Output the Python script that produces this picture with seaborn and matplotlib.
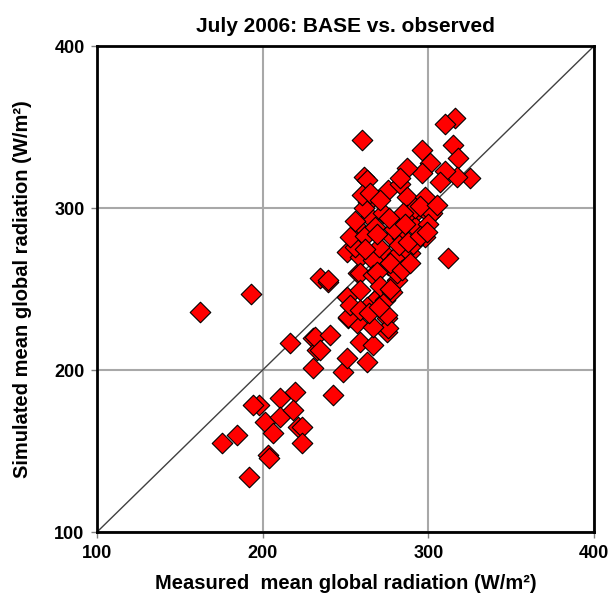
import matplotlib
matplotlib.use("Agg")
import matplotlib.pyplot as plt
import seaborn as sns
import pandas as pd

measured = [
    162, 193, 260, 261, 198, 216.5, 194, 210.5, 219.5, 201.5, 210.5, 206, 175.5, 184.5,
    203, 204, 192, 218, 221.5, 224, 224, 230.5, 232.8, 230.5, 234.6, 239.4, 250.9, 231.6,
    240.6, 234.6, 248.5, 250.9, 262.9, 258.7, 266.6, 251.5, 257, 275, 275, 267.8, 257.5,
    281, 242.4,
    263, 275.6, 283, 287, 298, 263.5, 264.8, 272.6, 281, 287, 293.7, 301, 292, 298,
    258.7, 255.7, 278, 284, 250.9, 258.7, 272.6, 281, 289, 266.6, 275.6, 258.7, 266.6,
    281, 312, 239.4, 269, 276.8, 258.7, 267.8, 273.8, 263, 251.5, 275.6, 266.6, 275,
    316, 310, 315, 318, 325, 317, 310, 296, 301, 296, 287, 283, 307, 302, 292, 284.7,
    261, 256, 253, 270, 279, 286, 291, 295, 300, 305, 262, 268, 271, 278, 284, 289,
    253, 259, 264, 270, 277, 282, 288, 295, 299, 260, 265, 271, 256, 262, 269, 276,
]
simulated = [
    236, 247, 342, 319, 178.5, 216.7, 178.4, 182.7, 186.4, 167.9, 171, 161.1, 155, 159.9,
    147.5, 145.7, 134, 175.3, 164.8, 165, 155, 219.8, 212.3, 201, 256.8, 254.3, 245, 220.4,
    221.6, 212.3, 198.8, 207.4, 205, 217.3, 215.4, 232, 229, 232, 223.5, 243, 260,
    255.6, 184.6,
    317, 311, 315, 306.8, 306.8, 303.7, 294.4, 297, 291.4, 295.7, 298.8, 295.7, 288, 282,
    286.4, 280, 282, 281.5, 272.8, 269.8, 272.8, 271, 272, 268, 264.8, 260, 258.6,
    260, 269, 255.6, 260.5, 266, 249.4, 243.2, 243.2, 238.9, 232.7, 226, 226.5, 234,
    355.5, 352, 339, 331, 318.5, 319, 323, 336, 328, 321.6, 325, 318.5, 316, 297, 300, 297,
    300, 276, 282, 276, 287, 290, 278, 301, 290, 302, 283, 288, 252, 248, 262, 266,
    240, 237, 235, 239, 250, 277, 279, 283, 285, 308, 309, 305, 292, 275, 284, 294,
]

df = pd.DataFrame({"measured": measured, "simulated": simulated})

sns.set_style("white")
plt.rcParams["font.family"] = ["Liberation Sans", "DejaVu Sans"]
plt.rcParams["text.color"] = "black"
plt.rcParams["axes.labelcolor"] = "black"
plt.rcParams["xtick.color"] = "black"
plt.rcParams["ytick.color"] = "black"

fig = plt.figure(figsize=(6.09, 6.0), dpi=100)
ax = fig.add_axes([0.1593, 0.1133, 0.8161, 0.81])

ax.set_xlim(100, 400)
ax.set_ylim(100, 400)
ax.set_xticks([100, 200, 300, 400])
ax.set_yticks([100, 200, 300, 400])
ax.grid(True, color="#a8a8a8", linewidth=1.5)
ax.set_axisbelow(True)

ax.plot([100, 400], [100, 400], color="#404040", linewidth=1.0, zorder=1)

sns.scatterplot(data=df, x="measured", y="simulated", marker="D", s=110,
                color="#ff0000", edgecolor="black", linewidth=0.8, ax=ax, zorder=3,
                legend=False)

for sp in ax.spines.values():
    sp.set_color("black")
    sp.set_linewidth(2.0)

ax.tick_params(axis="both", direction="out", length=4, width=1, color="#808080",
               labelsize=13, labelcolor="black", pad=5, bottom=True, left=True)
for lab in ax.get_xticklabels() + ax.get_yticklabels():
    lab.set_fontweight("bold")

ax.set_xlabel("Measured  mean global radiation (W/m²)", fontsize=14.5,
              fontweight="bold", labelpad=9, color="black")
ax.set_ylabel("Simulated mean global radiation (W/m²)", fontsize=14.5,
              fontweight="bold", labelpad=16, color="black")
ax.set_title("July 2006: BASE vs. observed", fontsize=15, fontweight="bold", pad=10,
             color="black")

fig.savefig("out.png", dpi=100)
